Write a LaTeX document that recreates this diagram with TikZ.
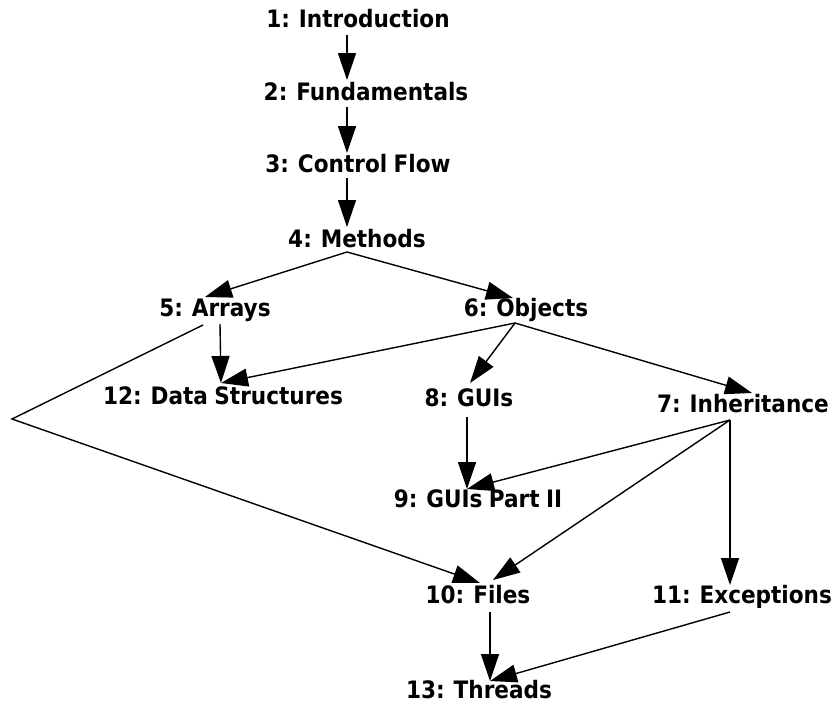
\documentclass[tikz,border=0pt]{standalone}
\usepackage{fontspec}
\setsansfont{DejaVu Sans Condensed}[WordSpace=0.85]
\usetikzlibrary{arrows.meta}
\begin{document}
\begin{tikzpicture}[x=1pt,y=-1pt,
  topic/.style={font=\sffamily\bfseries\fontsize{24}{27}\selectfont, inner sep=0pt, anchor=base},
  link/.style={line width=1.4pt, line join=miter, -{Triangle[length=27pt,width=18pt]}}]
\useasboundingbox (0,0) rectangle (833,705);

% course topics
\node[topic] (n1)  at (358,27)  {1: Introduction};
\node[topic] (n2)  at (366,100) {2: Fundamentals};
\node[topic] (n3)  at (358,172) {3: Control Flow};
\node[topic] (n4)  at (357,247) {4: Methods};
\node[topic] (n5)  at (215,316) {5: Arrays};
\node[topic] (n6)  at (526,316) {6: Objects};
\node[topic] (n12) at (223,404) {12: Data Structures};
\node[topic] (n8)  at (469,406) {8: GUIs};
\node[topic] (n7)  at (743,412) {7: Inheritance};
\node[topic] (n9)  at (478,507) {9: GUIs Part II};
\node[topic] (n10) at (478,603) {10: Files};
\node[topic] (n11) at (742,603) {11: Exceptions};
\node[topic] (n13) at (479,698) {13: Threads};

% ports where the connectors leave and enter the topics
\coordinate (o1)  at (347,35);
\coordinate (i2)  at (347,80);
\coordinate (o2)  at (347,107);
\coordinate (i3)  at (347,153);
\coordinate (o3)  at (347,178);
\coordinate (i4)  at (347,227);
\coordinate (o4)  at (347,252);
\coordinate (i5)  at (205,297);
\coordinate (i6)  at (513,298);
\coordinate (o5a) at (220,324);
\coordinate (o5b) at (203,325);
\coordinate (bend) at (12,419);
\coordinate (o6)  at (515,323);
\coordinate (i12) at (221,383);
\coordinate (i8)  at (470,383);
\coordinate (i7)  at (752,393);
\coordinate (o8)  at (467,417);
\coordinate (o7)  at (730,420);
\coordinate (i9)  at (467,489);
\coordinate (i10a) at (480,583);
\coordinate (i10b) at (493,580);
\coordinate (i11) at (730,585);
\coordinate (o10) at (490,612);
\coordinate (o11) at (730,612);
\coordinate (i13) at (490,681);

% prerequisites
\draw[link] (o1) -- (i2);
\draw[link] (o2) -- (i3);
\draw[link] (o3) -- (i4);
\draw[link] (o4) -- (i5);
\draw[link] (o4) -- (i6);
\draw[link] (o5a) -- (i12);
\draw[link] (o5b) -- (bend) -- (i10a);
\draw[link] (o6) -- (i12);
\draw[link] (o6) -- (i8);
\draw[link] (o6) -- (i7);
\draw[link] (o8) -- (i9);
\draw[link] (o7) -- (i9);
\draw[link] (o7) -- (i10b);
\draw[link] (o7) -- (i11);
\draw[link] (o10) -- (i13);
\draw[link] (o11) -- (i13);
\end{tikzpicture}
\end{document}
